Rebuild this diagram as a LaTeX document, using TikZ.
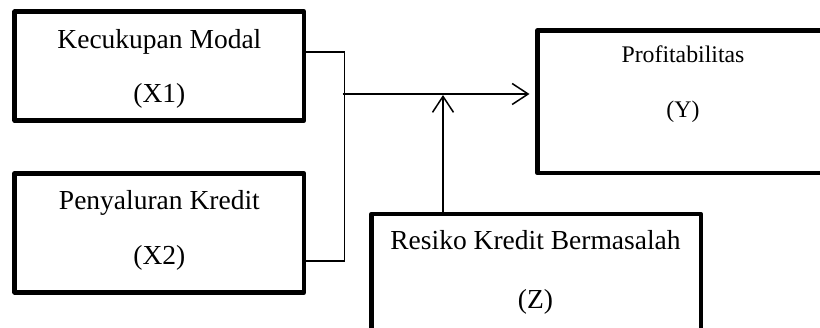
\documentclass[tikz,border=0pt]{standalone}
\usepackage{fontspec}
\setmainfont{Liberation Serif}
\usetikzlibrary{arrows.meta}
\begin{document}
\begin{tikzpicture}[x=1pt,y=-1pt,
  box/.style={draw=black,line width=4.5pt,rectangle,inner sep=0pt,outer sep=0pt,line join=round},
  conn/.style={draw=black,line width=1.5pt},
  arr/.style={conn,-{Straight Barb[length=16pt,width=21pt,line width=1.5pt]}},
  big/.style={font=\fontsize{27.5}{32}\selectfont,inner sep=0pt,anchor=base},
  small/.style={font=\fontsize{23.8}{28}\selectfont,inner sep=0pt,anchor=base}]
\useasboundingbox (0,0) rectangle (820,328);
\clip (0,0) rectangle (820,328);
% boxes
\node[box,minimum width=289.3pt,minimum height=108.8pt] (X1) at (159.35,66.1) {};
\node[box,minimum width=289.3pt,minimum height=118.8pt] (X2) at (159.35,232.9) {};
\node[box,minimum width=292.5pt,minimum height=142.7pt] (Y) at (683.75,101.65) {};
\node[box,minimum width=329.1pt,minimum height=150pt] (Z) at (536.25,289) {};
% texts
\node[big] (t1a) at (159.4,48.5) {Kecukupan Modal};
\node[big] (t1b) at (159.4,102.5) {(X1)};
\node[big] (t2a) at (159.4,210) {Penyaluran Kredit};
\node[big] (t2b) at (159.4,265) {(X2)};
\node[small] (tya) at (683,62.7) {Profitabilitas};
\node[small] (tyb) at (683,117.3) {(Y)};
\node[big] (tza) at (535.5,250) {Resiko Kredit Bermasalah};
\node[big] (tzb) at (535.5,308.3) {(Z)};
% connectors
\coordinate (jt) at (344.5,52);
\coordinate (jb) at (344.5,261);
\coordinate (jm) at (342.5,94);
\coordinate (za) at (443,95);
\draw[conn] (X1.east |- jt) -- (jt) -- (jb) -- (X2.east |- jb);
\draw[arr] (jm) -- ([xshift=-8pt]Y.west |- jm);
\draw[arr] (Z.north -| za) -- (za);
\end{tikzpicture}
\end{document}
